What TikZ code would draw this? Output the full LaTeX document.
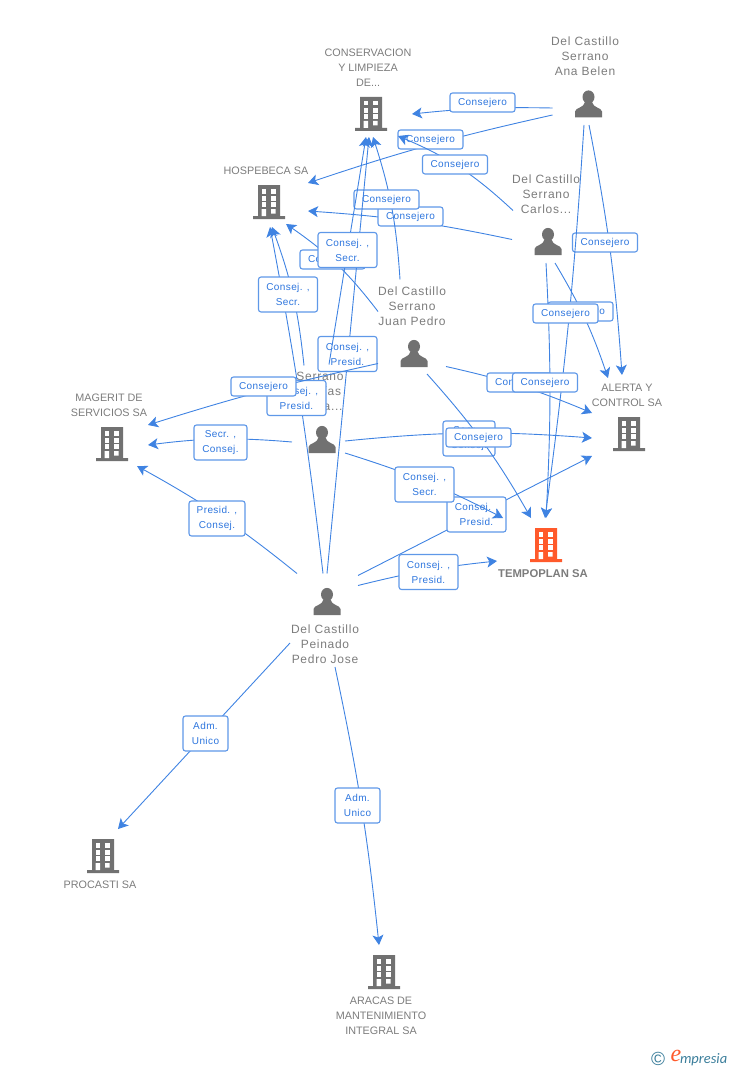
\documentclass[tikz,border=0pt]{standalone}
\usepackage{fontspec}
\setmainfont{Liberation Sans}
\newfontfamily\nameFont[LetterSpace=6]{Liberation Sans}
\newfontfamily\firmFont{Liberation Sans}
\newfontfamily\roleFont[LetterSpace=4]{Liberation Sans}
\newfontfamily\logoFont{Carlito}
\usetikzlibrary{arrows.meta,calc}
\definecolor{iconGray}{HTML}{717171}
\definecolor{textGray}{HTML}{7C7C7C}
\definecolor{iconOrange}{HTML}{FF5A2B}
\definecolor{linkBlue}{HTML}{3F83E2}
\definecolor{roleEdge}{HTML}{5F98E8}
\definecolor{roleText}{HTML}{2E76DE}
\definecolor{logoTeal}{HTML}{3B7E9B}
\newcommand{\firmIcon}[1]{%
  \begin{scope}[shift={(path picture bounding box.center)}]
  \fill[#1] (-11,-17) rectangle (11,14) (-16,14) rectangle (16,17);
  \foreach \wx in {-7.5,2}
    \foreach \wy in {-13,-5.7,0.3}
      \fill[white] (\wx,\wy) rectangle ++(4.5,4.5);
  \fill[white] (-7.5,7) rectangle (-3,14) (2,7) rectangle (6.5,11.5);
  \end{scope}}
\newcommand{\personIcon}{%
  \begin{scope}[shift={(path picture bounding box.center)}]
  \fill[iconGray] (0,-7) ellipse (6 and 6.6);
  \fill[iconGray] (-13.5,13.5) -- (-13.5,7.5) .. controls (-13,3.5) and (-4.5,4) .. (-3.5,-2)
    -- (3.5,-2) .. controls (4.5,4) and (13,3.5) .. (13.5,7.5) -- (13.5,13.5) -- cycle;
  \end{scope}}
\begin{document}
\begin{tikzpicture}
[x=1pt, y=-1pt,
 every node/.style={align=center, inner sep=0, outer sep=0},
 nodeFirm/.style={minimum width=32, minimum height=34, path picture={\firmIcon{#1}}},
 nodeFirm/.default=iconGray,
 nodePerson/.style={minimum width=28, minimum height=28, path picture={\personIcon}},
 nodeName/.style={text=textGray, font=\nameFont\fontsize{12}{15}\selectfont},
 nodeTitle/.style={text=textGray, font=\firmFont\fontsize{10.8}{15}\selectfont},
 nodeRole/.style={draw=roleEdge, line width=1.1, fill=white, rounded corners=2.5,
   text=roleText, font=\roleFont\fontsize{10}{15}\selectfont,
   minimum width=65, minimum height=19},
 nodeRoleTwo/.style={nodeRole, minimum width=#1, minimum height=35},
 nodeRoleTwo/.default=59,
 linkArrow/.style={draw=linkBlue, line width=0.9, -{Stealth[length=10, width=11, inset=2.5]}}
]
\useasboundingbox (0,0) rectangle (728,1070);
% firms
\node[nodeFirm]             (cons)     at (371,114) {};
\node[nodeFirm]             (hosp)     at (269,202) {};
\node[nodeFirm]             (magerit)  at (112,444) {};
\node[nodeFirm]             (alerta)   at (629,434) {};
\node[nodeFirm=iconOrange]  (tempo)    at (546,545) {};
\node[nodeFirm]             (procasti) at (103,856) {};
\node[nodeFirm]             (aracas)   at (384,972) {};
\node[nodeTitle] (consT)     at (368,68)  {CONSERVACION\\ Y LIMPIEZA\\ DE...};
\node[nodeTitle] (hospT)     at (266,171) {HOSPEBECA SA};
\node[nodeTitle] (mageritT)  at (109,405.5) {MAGERIT DE\\ SERVICIOS SA};
\node[nodeTitle] (alertaT)   at (627,395.5) {ALERTA Y\\ CONTROL SA};
\node[nodeTitle] (procastiT) at (100,885) {PROCASTI SA};
\node[nodeTitle] (aracasT)   at (381,1016) {ARACAS DE\\ MANTENIMIENTO\\ INTEGRAL SA};
\node[text=textGray, font=\firmFont\bfseries\fontsize{11.3}{15}\selectfont]
  (tempoT) at (543,574) {TEMPOPLAN SA};
% people
\node[nodePerson] (ana)    at (588.5,104) {};
\node[nodePerson] (carlos) at (548,241.5) {};
\node[nodePerson] (juan)   at (414,353.5) {};
\node[nodePerson] (serr)   at (322,439.5) {};
\node[nodePerson] (pedro)  at (327,601.5) {};
\node[nodeName] (anaT)    at (585,56)  {Del Castillo\\ Serrano\\ Ana Belen};
\node[nodeName] (carlosT) at (546,194) {Del Castillo\\ Serrano\\ Carlos...};
\node[nodeName] (juanT)   at (412,306) {Del Castillo\\ Serrano\\ Juan Pedro};
\node[nodeName] (serrT)   at (320,391) {Serrano\\ Macías\\ Maria...};
\node[nodeName] (pedroT)  at (325,644) {Del Castillo\\ Peinado\\ Pedro Jose};
% Ana Belen
\draw[linkArrow] ($(ana)+(-36,4)$) to[bend right=3.5] ($(cons)+(41,0)$);
\node[nodeRole] (r1) at (482.5,102.5) {Consejero};
\draw[linkArrow] ($(ana)+(-36,11)$) to[bend right=3] ($(hosp)+(39,-19)$);
\node[nodeRole] (r2) at (430.5,139.5) {Consejero};
\draw[linkArrow] ($(ana)+(0.5,21)$) to[bend left=3.5] ($(alerta)+(-7,-59)$);
\node[nodeRole] (r3) at (605,242.5) {Consejero};
\draw[linkArrow] ($(ana)+(-4.5,21)$) to[bend left=2] ($(tempo)+(-1,-27)$);
% Carlos
\draw[linkArrow] ($(carlos)+(-35,-31)$) to[bend right=10] ($(cons)+(27,22)$);
\node[nodeRole] (r4) at (455,164.5) {Consejero};
\draw[linkArrow] ($(carlos)+(-36,-2)$) to[bend right=4] ($(hosp)+(39,9)$);
\node[nodeRole] (r5) at (410.5,216.5) {Consejero};
\draw[linkArrow] ($(carlos)+(-2,21.5)$) to[bend left=3] ($(tempo)+(0,-27)$);
\draw[linkArrow] ($(carlos)+(7,21.5)$) to[bend left=6] ($(alerta)+(-21,-56)$);
\node[nodeRole] (r6) at (580.5,311.5) {Consejero};
\node[nodeRole] (r7) at (565.5,313.5) {Consejero};
% Juan Pedro
\draw[linkArrow] ($(juan)+(-14,-74)$) to[bend right=7] ($(cons)+(2,23)$);
\draw[linkArrow] ($(juan)+(-36,-42)$) to[bend right=9] ($(hosp)+(17,22)$);
\node[nodeRole] (r8) at (332.5,259.5) {Consejero};
\node[nodeRole] (r9) at (386.5,199.5) {Consejero};
\draw[linkArrow] ($(juan)+(32,13)$) to[bend left=5] ($(alerta)+(-37,-21)$);
\node[nodeRole] (r10) at (519.5,382.5) {Consejero};
\node[nodeRole] (r11) at (545,382.5) {Consejero};
% Pedro Jose, first part
\draw[linkArrow] ($(pedro)+(0,-28)$) -- ($(cons)+(-2,23)$);
\node[nodeRoleTwo] (r12) at (347.5,354) {Consej. ,\\ Presid.};
\draw[linkArrow] ($(pedro)+(-4,-28)$) to[bend right=2] ($(hosp)+(1,25)$);
\node[nodeRoleTwo] (r13) at (296.5,398) {Consej. ,\\ Presid.};
% Serrano, first part
\draw[linkArrow] ($(serr)+(-18,-74)$) to[bend right=7] ($(hosp)+(3,25)$);
\node[nodeRoleTwo] (r14) at (288,294.5) {Consej. ,\\ Secr.};
\draw[linkArrow] ($(serr)+(7,-75)$) -- ($(cons)+(-5,23)$);
\node[nodeRoleTwo] (r15) at (347.5,250) {Consej. ,\\ Secr.};
\draw[linkArrow] ($(juan)+(-36,10)$) to[bend right=2.5] ($(magerit)+(36,-19)$);
\node[nodeRole] (r16) at (263.5,386.5) {Consejero};
\draw[linkArrow] ($(serr)+(-30,2.5)$) to[bend right=6] ($(magerit)+(36,1)$);
\node[nodeRoleTwo=53] (r17) at (220.5,442.5) {Secr. ,\\ Consej.};
\draw[linkArrow] ($(serr)+(23,1.5)$) to[bend left=5] ($(alerta)+(-37,4)$);
\node[nodeRoleTwo=52] (r18) at (469,438.5) {Secr. ,\\ Consej.};
\draw[linkArrow] ($(juan)+(13,20.5)$) to[bend left=6] ($(tempo)+(-15,-27)$);
\node[nodeRole] (r19) at (478.5,437.5) {Consejero};
% Pedro Jose, the rest
\draw[linkArrow] ($(pedro)+(-30,-28)$) to[bend right=5] ($(magerit)+(25,22)$);
\node[nodeRoleTwo=56] (r20) at (217,518.5) {Presid. ,\\ Consej.};
\draw[linkArrow] ($(pedro)+(31,-26)$) -- ($(alerta)+(-37,22)$);
\node[nodeRoleTwo] (r21) at (476.5,514.5) {Consej. ,\\ Presid.};
\draw[linkArrow] ($(serr)+(23,13.5)$) to[bend left=5] ($(tempo)+(-43,-27)$);
\node[nodeRoleTwo] (r22) at (424.5,484.5) {Consej. ,\\ Secr.};
\draw[linkArrow] ($(pedro)+(31,-16)$) to[bend left=4] ($(tempo)+(-49,16)$);
\node[nodeRoleTwo] (r23) at (428.5,572) {Consej. ,\\ Presid.};
\draw[linkArrow] ($(pedro)+(-37,41.5)$) -- ($(procasti)+(15,-27)$);
\node[nodeRoleTwo=45] (r24) at (205.5,733.5) {Adm.\\ Unico};
\draw[linkArrow] ($(pedro)+(8,65.5)$) to[bend left=3] ($(aracas)+(-5,-27)$);
\node[nodeRoleTwo=45] (r25) at (357.5,805.5) {Adm.\\ Unico};
% logo
\node[text=logoTeal, font=\fontsize{19}{19}\selectfont] (logoC) at (658,1059) {\textcopyright};
\node[text=iconOrange, font=\fontspec{Liberation Serif Italic}\fontsize{24}{24}\selectfont] (logoE) at (676,1056) {e};
\node[text=logoTeal, font=\logoFont\itshape\fontsize{14.5}{14}\selectfont, anchor=west] (logoT) at (680,1060) {mpresia};
\end{tikzpicture}
\end{document}
